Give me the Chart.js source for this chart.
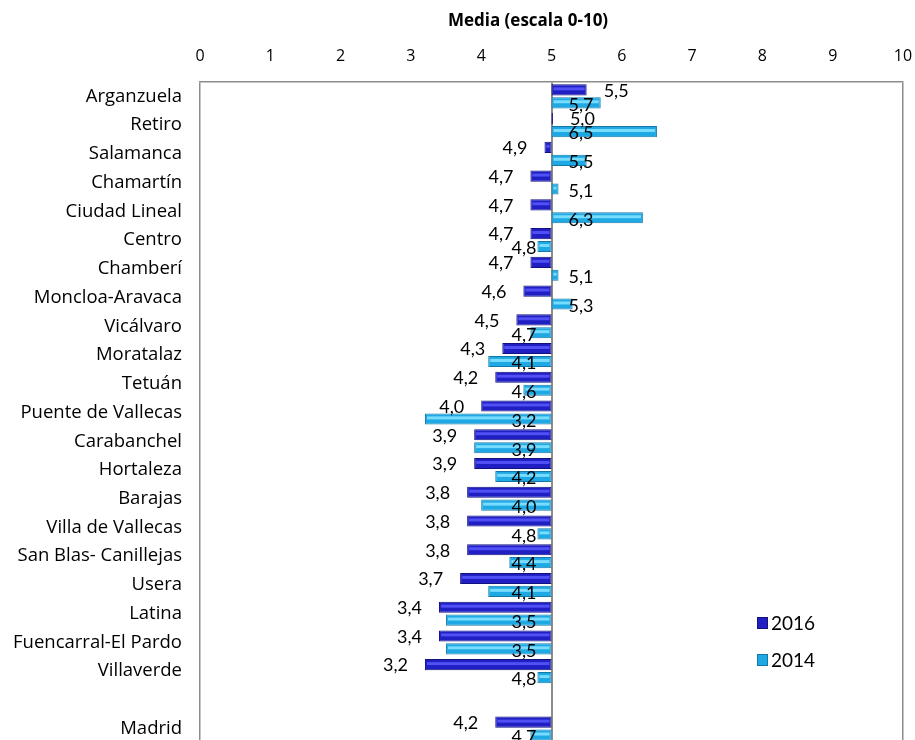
<!DOCTYPE html>
<html><head><meta charset="utf-8">
<script src="https://cdn.jsdelivr.net/npm/chart.js@4"></script>
<style>html,body{margin:0;padding:0;overflow:hidden;background:#fff}#wrap{width:915px;height:740px;overflow:hidden}</style>
</head><body><div id="wrap"><canvas id="c" width="915" height="760"></canvas></div>
<script>
const categories = ["Arganzuela","Retiro","Salamanca","Chamartín","Ciudad Lineal","Centro","Chamberí","Moncloa-Aravaca","Vicálvaro","Moratalaz","Tetuán","Puente de Vallecas","Carabanchel","Hortaleza","Barajas","Villa de Vallecas","San Blas- Canillejas","Usera","Latina","Fuencarral-El Pardo","Villaverde","","Madrid"];
const values2016 = [5.5,5.02,4.9,4.7,4.7,4.7,4.7,4.6,4.5,4.3,4.2,4.0,3.9,3.9,3.8,3.8,3.8,3.7,3.4,3.4,3.2,null,4.2];
const values2014 = [5.7,6.5,5.5,5.1,6.3,4.8,5.1,5.3,4.7,4.1,4.6,3.2,3.9,4.2,4.0,4.8,4.4,4.1,3.5,3.5,4.8,null,4.7];
const xTicks = [0,1,2,3,4,5,6,7,8,9,10];
const baseValue = 5;
const seriesNames = ["2016","2014"];
const axisTitle = "Media (escala 0-10)";

const toRange = arr => arr.map(v => v === null ? null : [baseValue, v]);
const colors = ["#1f1fc4","#1fa9e4"];
const borders = ["#12127e","#1479a8"];
const highlights = ["rgba(85,85,250,0.9)","rgba(125,222,255,0.95)"];
const labelFont = '18px Lato, "Open Sans", sans-serif';
const gillLike = '"Open Sans", Lato, sans-serif';

const labelPlugin = {
  id: 'valueLabels',
  afterDatasetsDraw(chart) {
    const ctx = chart.ctx;
    const xs = chart.scales.x;
    const x5 = xs.getPixelForValue(baseValue);
    chart.data.datasets.forEach((ds, di) => {
      const meta = chart.getDatasetMeta(di);
      const raw = di === 0 ? values2016 : values2014;
      meta.data.forEach((el, i) => {
        const v = raw[i];
        if (v === null) return;
        const l = Math.min(el.x, el.base), r = Math.max(el.x, el.base);
        if (r - l > 3) {
          ctx.save();
          ctx.fillStyle = highlights[di];
          ctx.fillRect(l + 2, el.y - el.height / 2 + 3, r - l - 4, 3);
          ctx.restore();
        }
        const xv = xs.getPixelForValue(v);
        const txt = v.toFixed(1).replace('.', ',');
        ctx.save();
        ctx.font = labelFont;
        ctx.fillStyle = '#000';
        ctx.textBaseline = 'middle';
        if (di === 0) {
          if (v < baseValue) { ctx.textAlign = 'right'; ctx.fillText(txt, xv - 17, el.y + 1); }
          else { ctx.textAlign = 'left'; ctx.fillText(txt, xv + 17, el.y + 1); }
        } else {
          if (v < baseValue) { ctx.textAlign = 'right'; ctx.fillText(txt, x5 - 15, el.y + 2); }
          else { ctx.textAlign = 'left'; ctx.fillText(txt, x5 + 17, el.y + 2); }
        }
        ctx.restore();
      });
    });
    ctx.save();
    ctx.font = 'bold 17px ' + gillLike;
    ctx.fillStyle = '#000';
    ctx.textAlign = 'center';
    ctx.textBaseline = 'middle';
    ctx.fillText(axisTitle, 528, 21);
    ctx.restore();
    const lx = 757, ly = [623, 660];
    seriesNames.forEach((name, i) => {
      ctx.save();
      ctx.fillStyle = colors[i];
      ctx.strokeStyle = borders[i];
      ctx.lineWidth = 1;
      ctx.fillRect(lx, ly[i] - 6, 11, 12);
      ctx.strokeRect(lx + 0.5, ly[i] - 5.5, 10, 11);
      ctx.fillStyle = '#000';
      ctx.font = '19px Lato, "Open Sans", sans-serif';
      ctx.textAlign = 'left';
      ctx.textBaseline = 'middle';
      ctx.fillText(name, lx + 14, ly[i] + 1);
      ctx.restore();
    });
  }
};

new Chart(document.getElementById('c'), {
  type: 'bar',
  data: {
    labels: categories,
    datasets: [
      { label: seriesNames[0], data: toRange(values2016), backgroundColor: colors[0], borderColor: borders[0], borderWidth: 1, borderSkipped: false },
      { label: seriesNames[1], data: toRange(values2014), backgroundColor: colors[1], borderColor: borders[1], borderWidth: 1, borderSkipped: false }
    ]
  },
  options: {
    indexAxis: 'y',
    responsive: false,
    animation: false,
    layout: { autoPadding: false, padding: { left: 0, top: 0, right: 12, bottom: 17 } },
    datasets: { bar: { categoryPercentage: 0.9, barPercentage: 0.86 } },
    plugins: { legend: { display: false }, tooltip: { enabled: false } },
    scales: {
      x: {
        position: 'top',
        min: 0, max: 10,
        afterBuildTicks: s => { s.ticks = xTicks.map(v => ({ value: v })); },
        afterFit: s => { s.height = 82; s.paddingLeft = 0; s.paddingRight = 0; s.paddingTop = 0; s.paddingBottom = 0; },
        ticks: { padding: 16, color: '#000', font: { family: gillLike, size: 16 } },
        grid: {
          drawTicks: false,
          color: c => (c.tick && (c.tick.value === 0 || c.tick.value === 5 || c.tick.value === 10)) ? '#8c8c8c' : 'rgba(0,0,0,0)',
          lineWidth: c => (c.tick && c.tick.value === 5) ? 2 : 1.5
        },
        border: { display: true, color: '#8c8c8c', width: 1.5 },
        title: { display: false }
      },
      y: {
        afterFit: s => { s.width = 200; s.paddingTop = 0; s.paddingBottom = 0; s.paddingLeft = 0; s.paddingRight = 0; },
        ticks: { padding: 18, color: '#000', autoSkip: false, font: { family: gillLike, size: 18.5 } },
        grid: { display: false, drawTicks: false },
        border: { display: false }
      }
    }
  },
  plugins: [labelPlugin]
});
</script>
</body></html>
